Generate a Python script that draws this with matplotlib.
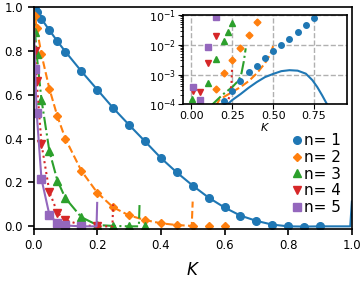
import matplotlib
matplotlib.use("Agg")
import matplotlib.pyplot as plt
import numpy as np

# marker data (main panel)
k_pts = [0.005, 0.01, 0.025, 0.05, 0.075, 0.1, 0.15, 0.2, 0.25, 0.3, 0.35, 0.4,
         0.45, 0.5, 0.55, 0.6, 0.65, 0.7, 0.75, 0.8, 0.85, 0.9]
y1_pts = [0.99, 0.976, 0.946, 0.894, 0.844, 0.797, 0.708, 0.624, 0.54, 0.463, 0.388,
          0.312, 0.246, 0.186, 0.131, 0.086, 0.049, 0.025, 0.008, 0.0, -0.001, 0.0]
y2_pts = [0.957, 0.905, 0.784, 0.627, 0.502, 0.40, 0.254, 0.154, 0.087, 0.05, 0.029,
          0.014, 0.006, 0.002, 0.0, 0.0]
y3_pts = [0.884, 0.784, 0.578, 0.342, 0.209, 0.129, 0.042, 0.006, 0.002, 0.0, 0.0]
k4_pts = [0.005, 0.01, 0.025, 0.05, 0.075, 0.1, 0.2]
y4_pts = [0.80, 0.662, 0.377, 0.157, 0.063, 0.029, 0.0]
y5_pts = [0.716, 0.517, 0.216, 0.052, 0.014, 0.004, 0.0]

# curves (main panel)
k1_line = [0.0, 0.005, 0.01, 0.025, 0.05, 0.075, 0.1, 0.15, 0.2, 0.25, 0.3, 0.35, 0.4,
           0.45, 0.5, 0.55, 0.6, 0.65, 0.7, 0.75, 0.8, 0.85, 0.9, 0.95, 0.995, 1.0]
y1_line = [1.0, 0.99, 0.976, 0.946, 0.894, 0.844, 0.797, 0.708, 0.624, 0.54, 0.463,
           0.388, 0.312, 0.246, 0.186, 0.131, 0.086, 0.049, 0.025, 0.008, 0.0, -0.001,
           0.0, 0.0, 0.0, 0.113]
k2_line = [0.0, 0.005, 0.01, 0.025, 0.05, 0.075, 0.1, 0.15, 0.2, 0.25, 0.3, 0.35, 0.4,
           0.45, 0.497, 0.5]
y2_line = [1.0, 0.957, 0.905, 0.784, 0.627, 0.502, 0.40, 0.254, 0.154, 0.087, 0.05,
           0.029, 0.014, 0.006, 0.002, 0.113]
k3_line = [0.0, 0.005, 0.01, 0.025, 0.05, 0.075, 0.1, 0.15, 0.2, 0.25, 0.3, 0.331, 0.333]
y3_line = [1.0, 0.884, 0.784, 0.578, 0.342, 0.209, 0.129, 0.042, 0.006, 0.002, 0.0,
           0.0, 0.098]
k4_line = [0.0, 0.005, 0.01, 0.025, 0.05, 0.075, 0.1, 0.15, 0.2, 0.248, 0.25]
y4_line = [1.0, 0.80, 0.662, 0.377, 0.157, 0.063, 0.029, 0.006, 0.0, 0.0, 0.10]
k5_line = [0.0, 0.005, 0.01, 0.025, 0.05, 0.075, 0.1, 0.15, 0.198, 0.2]
y5_line = [1.0, 0.716, 0.517, 0.216, 0.052, 0.014, 0.004, 0.0, 0.0, 0.107]

# inset markers
ik1 = [0.2, 0.25, 0.3, 0.35, 0.4, 0.45, 0.5, 0.55, 0.6, 0.65, 0.7, 0.75]
iv1 = [1.3e-4, 2.8e-4, 6.2e-4, 1.2e-3, 2.0e-3, 3.6e-3, 6.0e-3, 1.0e-2, 1.6e-2,
       2.6e-2, 4.5e-2, 7.6e-2]
ik2 = [0.15, 0.2, 0.25, 0.3, 0.35, 0.4]
iv2 = [3.2e-4, 1.15e-3, 3.0e-3, 7.6e-3, 2.1e-2, 5.9e-2]
ik3 = [0.005, 0.1, 0.15, 0.2, 0.225, 0.25]
iv3 = [1.5e-4, 5.1e-4, 3.3e-3, 1.35e-2, 2.7e-2, 5.4e-2]
ik4 = [0.01, 0.05, 0.1, 0.15]
iv4 = [2.7e-4, 2.6e-4, 2.5e-3, 1.9e-2]
ik5 = [0.01, 0.05, 0.1, 0.15]
iv5 = [3.8e-4, 1.45e-4, 8.5e-3, 8.5e-2]

# inset curves
ik1_line = [0.22, 0.25, 0.3, 0.35, 0.4, 0.45, 0.5, 0.55, 0.6, 0.65, 0.7, 0.74, 0.77,
            0.8, 0.83, 0.85]
iv1_line = [1.0e-4, 1.4e-4, 2.2e-4, 3.6e-4, 5.6e-4, 8.2e-4, 1.05e-3, 1.3e-3, 1.4e-3,
            1.35e-3, 1.07e-3, 6.5e-4, 3.8e-4, 2.0e-4, 1.0e-4, 6e-5]
ik2_line = [0.15, 0.17, 0.2, 0.25, 0.3, 0.35, 0.4, 0.45, 0.48, 0.5]
iv2_line = [9e-5, 1.4e-4, 1.8e-4, 2.6e-4, 3.8e-4, 6.0e-4, 1.1e-3, 2.4e-3, 4.5e-3, 9e-3]
ik3_line = [0.12, 0.19, 0.25, 0.29, 0.306, 0.32, 0.332]
iv3_line = [9e-5, 2.1e-4, 3.8e-4, 6.5e-4, 1.1e-3, 2.7e-3, 7.6e-3]
ik4_line = [0.215, 0.235, 0.245, 0.248]
iv4_line = [1e-4, 2e-4, 5e-4, 1.5e-3]

labels = ["n= 1", "n= 2", "n= 3", "n= 4", "n= 5"]
colors = ["C0", "C1", "C2", "C3", "C4"]
markers = ["o", "D", "^", "v", "s"]
styles = ["-", "--", "-.", ":", "-"]

fig = plt.figure(figsize=(3.63, 2.82), dpi=100)
ax = fig.add_axes([0.0923, 0.188, 0.877, 0.787])

lines = [(k1_line, y1_line), (k2_line, y2_line), (k3_line, y3_line),
         (k4_line, y4_line), (k5_line, y5_line)]
pts = [(k_pts, y1_pts), (k_pts[:len(y2_pts)], y2_pts), (k_pts[:len(y3_pts)], y3_pts),
       (k4_pts, y4_pts), (k_pts[:len(y5_pts)], y5_pts)]
for i in range(5):
    ax.plot(lines[i][0], lines[i][1], color=colors[i], ls=styles[i], lw=1.5)
    ax.plot(pts[i][0], pts[i][1], color=colors[i], marker=markers[i], ls="none",
            ms=5.5 if markers[i] != "D" else 4.5, label=labels[i])

ax.set_xlim(0, 1.0)
ax.set_ylim(-0.012, 1.0)
ax.set_xticks([0.0, 0.2, 0.4, 0.6, 0.8, 1.0])
ax.set_yticks([0.0, 0.2, 0.4, 0.6, 0.8, 1.0])
ax.tick_params(labelsize=8.5, width=1.2, length=4)
for s in ax.spines.values():
    s.set_linewidth(1.2)
ax.set_xlabel("$K$", fontsize=12, labelpad=6)
ax.legend(loc="lower right", bbox_to_anchor=(1.0, 0.015), frameon=False, fontsize=11,
          handlelength=0.6, handletextpad=0.2, labelspacing=0.11, borderpad=0.2,
          markerscale=1.0)

# inset
ins = fig.add_axes([0.505, 0.630, 0.450, 0.317])
ins.set_yscale("log")
ipts = [(ik1, iv1), (ik2, iv2), (ik3, iv3), (ik4, iv4), (ik5, iv5)]
ilines = [(ik1_line, iv1_line), (ik2_line, iv2_line), (ik3_line, iv3_line),
          (ik4_line, iv4_line)]
for i in range(4):
    ins.plot(ilines[i][0], ilines[i][1], color=colors[i], ls=styles[i], lw=1.5)
for i in range(5):
    ins.plot(ipts[i][0], ipts[i][1], color=colors[i], marker=markers[i], ls="none",
             ms=4 if markers[i] != "D" else 3.5)
ins.set_xlim(-0.05, 0.95)
ins.set_ylim(1e-4, 1e-1)
ins.set_xticks([0.0, 0.25, 0.5, 0.75])
ins.grid(True, ls="--", color="#b0b0b0", lw=1.0)
ins.tick_params(labelsize=8, pad=1.5)
for s in ins.spines.values():
    s.set_linewidth(1.2)
ins.set_xlabel("$K$", fontsize=8, labelpad=0)

fig.savefig("out.png", dpi=100)
